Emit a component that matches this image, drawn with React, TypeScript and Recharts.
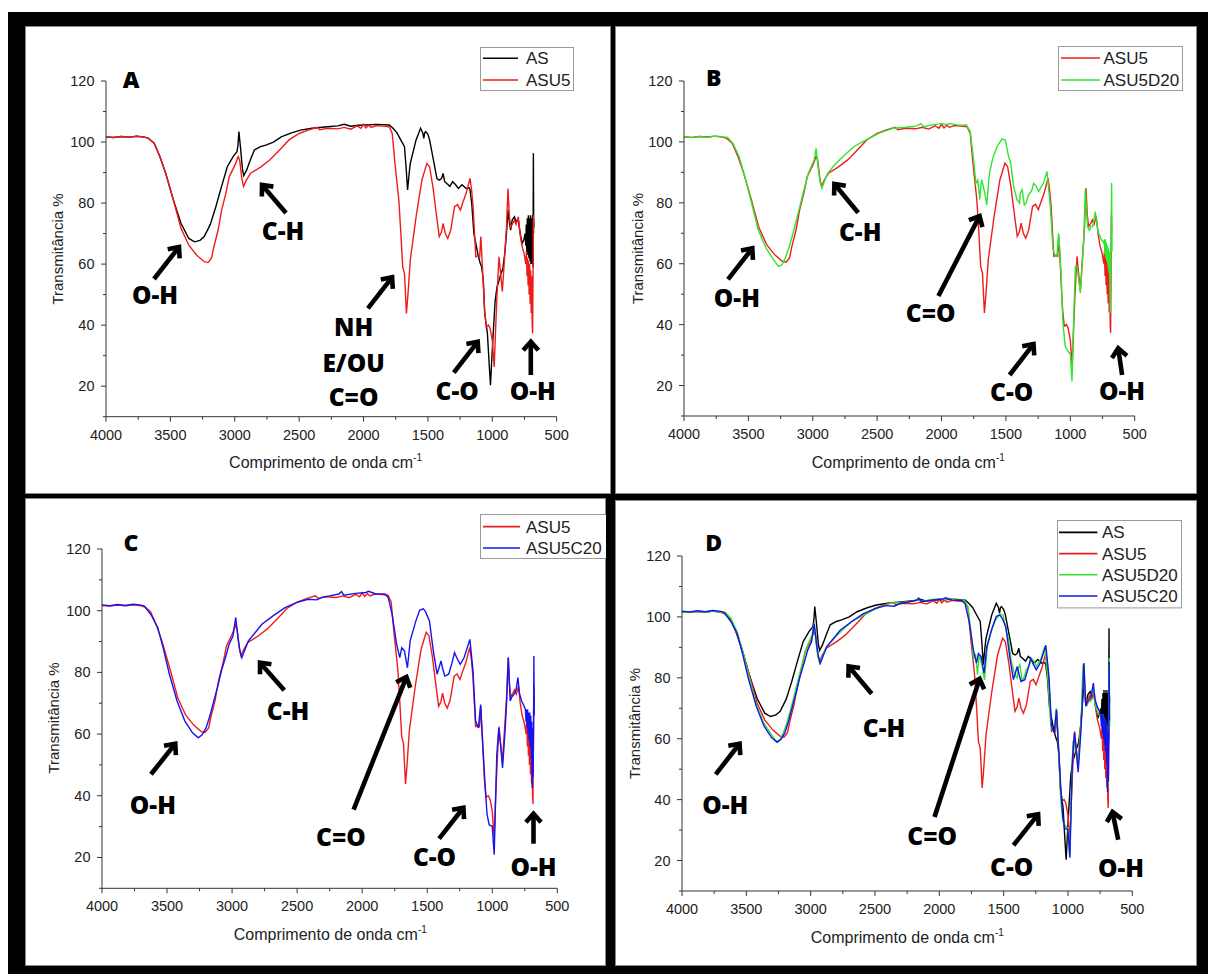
import React from "react";
import { LineChart, Line, XAxis, YAxis, Legend } from "recharts";

// FTIR spectra: wavenumber (cm-1) and transmittance (%)

const AS_WN = [4000, 3940, 3880, 3820, 3760, 3700, 3670, 3626, 3581, 3536, 3477, 3417, 3357, 3312, 3270, 3237, 3190, 3147, 3103, 3058, 3013, 2983, 2975, 2968, 2955, 2940, 2930, 2908, 2880, 2848, 2800, 2759, 2700, 2639, 2560, 2489, 2400, 2280, 2200, 2150, 2100, 2040, 1981, 1900, 1801, 1771, 1740, 1711, 1682, 1670, 1658, 1645, 1637, 1592, 1557, 1540, 1532, 1525, 1517, 1500, 1487, 1457, 1430, 1412, 1395, 1382, 1370, 1353, 1330, 1308, 1285, 1263, 1235, 1203, 1180, 1173, 1160, 1143, 1113, 1094, 1083, 1070, 1059, 1038, 1023, 1014, 1005, 993, 978, 963, 948, 933, 918, 903, 890, 878, 868, 858, 845, 828, 815, 798, 783, 768, 755, 745, 740, 736, 732, 728, 724, 720, 716, 712, 708, 704, 700, 696, 692, 688, 684, 681, 679, 676];
const AS_T = [101.7, 101.5, 101.8, 101.6, 101.9, 101.6, 101.2, 99.6, 95.2, 89.7, 81, 73.3, 68.4, 67.3, 67.8, 69, 73, 78.8, 85.4, 91.9, 95.2, 96.8, 99, 103.4, 98, 91, 89, 90.8, 94, 97.4, 98.5, 99, 100, 101.7, 103, 103.9, 104.5, 105, 105.3, 105.8, 105.2, 105.5, 105.6, 105.8, 105.6, 104.5, 103, 100.7, 98.5, 92, 84.3, 90, 93, 100.7, 104.5, 103, 101.2, 103, 103.4, 102.5, 100.7, 94.1, 88, 87.5, 88, 89.7, 87, 86.4, 85.5, 87, 86, 84.8, 86, 84.8, 85, 84.3, 80, 70, 63.5, 60.3, 59.1, 55, 43.8, 37.3, 26.3, 20.3, 28, 37.3, 48, 52.6, 54.5, 56.9, 58.5, 63.5, 70, 77.7, 74, 71.1, 74.5, 75.5, 74, 74.4, 70, 66.8, 68, 70, 66, 73, 64, 75, 63, 76, 62, 75, 61, 76, 60, 75, 60, 76, 59, 96.3, 75, 72];

const ASU5_WN = [4000, 3940, 3880, 3820, 3760, 3700, 3670, 3626, 3581, 3536, 3477, 3417, 3357, 3297, 3237, 3207, 3180, 3162, 3130, 3102, 3070, 3043, 2998, 2974, 2962, 2945, 2932, 2910, 2878, 2800, 2729, 2650, 2579, 2500, 2429, 2360, 2340, 2280, 2200, 2150, 2100, 2050, 2020, 2000, 1981, 1960, 1940, 1900, 1850, 1801, 1777, 1756, 1726, 1710, 1696, 1682, 1667, 1655, 1637, 1592, 1547, 1508, 1487, 1460, 1442, 1412, 1395, 1382, 1365, 1346, 1323, 1293, 1270, 1248, 1230, 1203, 1173, 1160, 1149, 1128, 1110, 1098, 1089, 1077, 1060, 1047, 1030, 1017, 1000, 985, 975, 963, 948, 938, 922, 905, 890, 878, 868, 858, 845, 828, 815, 798, 785, 770, 753, 740, 735, 730, 726, 722, 718, 714, 710, 706, 702, 698, 694, 690, 687, 684, 681, 678];
const ASU5_T = [101.7, 101.5, 101.8, 101.6, 101.9, 101.6, 101.2, 99.6, 95.2, 89.7, 81, 71.7, 66.2, 63, 60.8, 60.5, 62, 65.7, 71, 77.7, 83, 88.6, 92.5, 95.2, 94.1, 88, 85.4, 87.5, 89.7, 91.8, 94.1, 97.5, 100.7, 102.8, 103.9, 104.8, 104, 104.5, 104.3, 104.8, 104.2, 105.3, 104.5, 105.8, 104.6, 105.5, 104.8, 105.4, 105.2, 105, 102.8, 93, 81, 70, 59.1, 56.9, 43.8, 50, 61.3, 75.5, 87.5, 93, 91.9, 85, 78.8, 69, 70.5, 73.3, 70, 68.4, 71.1, 78.8, 79.5, 77.7, 80, 83.2, 88.1, 84, 78.8, 62.4, 62.8, 62.4, 69, 59.1, 45, 39.5, 40, 38.9, 35, 26.3, 38, 50.4, 62.4, 58, 51, 62, 72, 84.8, 76, 72.2, 73, 74.4, 73, 75.5, 70, 66, 63.5, 60, 64, 56, 62, 53, 61, 50, 60, 47, 58, 44, 56, 40, 37.3, 55, 76, 70];

const ASU5D20_WN = [4000, 3940, 3880, 3820, 3760, 3700, 3662, 3620, 3572, 3527, 3482, 3423, 3363, 3303, 3267, 3240, 3213, 3183, 3153, 3123, 3094, 3064, 3034, 2989, 2974, 2959, 2944, 2929, 2910, 2884, 2830, 2765, 2680, 2585, 2480, 2376, 2280, 2200, 2160, 2140, 2077, 2000, 1960, 1927, 1870, 1807, 1777, 1754, 1733, 1718, 1703, 1694, 1688, 1664, 1649, 1628, 1600, 1568, 1531, 1505, 1479, 1463, 1440, 1414, 1394, 1388, 1374, 1357, 1344, 1324, 1300, 1285, 1265, 1246, 1209, 1181, 1155, 1134, 1116, 1104, 1091, 1077, 1057, 1040, 1026, 1008, 1000, 987, 975, 961, 948, 935, 922, 909, 895, 884, 866, 852, 840, 826, 806, 790, 780, 760, 741, 736, 732, 728, 724, 720, 716, 712, 708, 704, 700, 696, 692, 689, 685, 679, 676];
const ASU5D20_T = [101.7, 101.4, 101.8, 101.5, 101.9, 101.6, 101.5, 99.5, 95.2, 88.5, 81, 71.1, 65.1, 61.3, 59.1, 59.6, 61.9, 65.5, 70, 75, 79.9, 85, 89.7, 94.1, 97.9, 91.9, 87, 84.8, 87, 89.7, 92.5, 95.2, 98.5, 100.7, 103, 104.5, 104.8, 105.2, 106, 105, 105.6, 106, 105.7, 106, 105.5, 105.6, 103.4, 95.2, 86.4, 87.5, 81, 86, 87.5, 83.2, 79.3, 89.7, 95, 98.5, 100.9, 100.6, 95.2, 93, 85.3, 81, 79.9, 83.2, 84.3, 79.3, 79.9, 82.6, 84, 86.4, 85.5, 83.7, 86.4, 90.3, 78.8, 64.6, 62.4, 62.4, 70, 61.3, 40.5, 33, 31.8, 30.7, 30.7, 21.4, 40, 59.1, 59.3, 55, 50.4, 59.3, 68, 84.3, 72.2, 71, 72.2, 72.2, 77.1, 72, 70, 68, 66.8, 68, 63, 68, 62, 67, 61, 66, 59, 65, 57, 64, 50, 43.8, 62, 86.5, 64];

const ASU5C20_WN = [4000, 3940, 3880, 3820, 3760, 3700, 3674, 3620, 3571, 3527, 3482, 3423, 3363, 3304, 3260, 3230, 3200, 3170, 3141, 3110, 3082, 3050, 3023, 2993, 2972, 2955, 2940, 2925, 2900, 2875, 2820, 2771, 2680, 2593, 2500, 2416, 2350, 2300, 2250, 2179, 2160, 2140, 2050, 1972, 1950, 1900, 1824, 1800, 1770, 1735, 1711, 1696, 1675, 1652, 1631, 1587, 1557, 1530, 1513, 1483, 1453, 1424, 1394, 1380, 1365, 1335, 1310, 1290, 1270, 1246, 1216, 1172, 1148, 1128, 1107, 1089, 1077, 1054, 1040, 1024, 1000, 985, 975, 965, 950, 935, 921, 900, 890, 876, 862, 850, 833, 818, 803, 790, 774, 755, 745, 740, 736, 732, 728, 724, 720, 716, 712, 708, 704, 700, 696, 693, 690, 686, 682, 680, 677];
const ASU5C20_T = [101.9, 101.6, 102, 101.7, 102.1, 101.8, 101.5, 98.5, 94.5, 87.5, 79.4, 70.7, 64.2, 60.4, 58.8, 59.8, 62, 66, 70.7, 75.5, 80.5, 85, 89.1, 91.8, 97.8, 91.3, 87, 84.8, 87.5, 90.2, 93, 95.6, 98.5, 101, 102.7, 103.7, 103.5, 104.5, 104.8, 105.4, 106.2, 105, 105.6, 105.9, 106.3, 105.5, 105.4, 104.3, 98.9, 89.1, 84.8, 88, 87, 81.5, 90.2, 96.7, 100.2, 100.6, 99.7, 96.7, 87, 79.4, 83.7, 81, 78.8, 79.4, 83, 86.4, 84.5, 82.6, 84.8, 90.7, 80.5, 64.2, 62, 69.6, 59.9, 42.5, 34, 30.6, 30.1, 20.9, 38, 53.4, 62, 56, 49, 62, 70, 84.8, 70.7, 72, 72.9, 74, 78.3, 73, 70.7, 69, 68, 64, 68, 62, 68, 60, 67, 58, 67, 56, 66, 52, 64, 42.5, 62, 46, 64, 85.3, 66];

const X_TICKS = [4000, 3750, 3500, 3250, 3000, 2750, 2500, 2250, 2000, 1750, 1500, 1250, 1000, 750, 500];
const Y_TICKS = [10, 20, 30, 40, 50, 60, 70, 80, 90, 100, 110, 120];

const SANS = "'Liberation Sans', Arial, sans-serif";
const BOLD = "'Open Sans', 'DejaVu Sans', sans-serif";
const AXIS = "#333";
const TEXT = "#222";

const SERIES: Record<string, { color: string; wn: number[]; t: number[] }> = {
  AS: { color: "#000000", wn: AS_WN, t: AS_T },
  ASU5: { color: "#f01c1c", wn: ASU5_WN, t: ASU5_T },
  ASU5D20: { color: "#2ee62e", wn: ASU5D20_WN, t: ASU5D20_T },
  ASU5C20: { color: "#1414f0", wn: ASU5C20_WN, t: ASU5C20_T },
};

const toRows = (name: string) =>
  SERIES[name].wn.map((w, i) => ({ w, t: SERIES[name].t[i] }));

// panel layout (page pixels)
const PANELS = [
  {
    letter: "A", series: ["AS", "ASU5"],
    plot: { x0: 105.9, x1: 556.6, y0: 81, y1: 416.7 },
    legend: { x: 480, y: 47, w: 94, h: 44, l0: 3, l1: 38, tx: 46, r0: 11.3, dy: 21.7 },
    letterPos: [131, 80], yLab: [57.8, 249], xLab: [325.6, 461.7],
    labels: [["O-H", 155, 295], ["C-H", 283, 231], ["NH", 353.6, 326.7], ["E/OU", 353.6, 362.7], ["C=O", 353.6, 397.3], ["C-O", 457.2, 390.7], ["O-H", 532.7, 390.7]],
    arrows: [[154, 279, 179, 247], [286, 213, 262, 185], [367.9, 308.3, 392.1, 277.3], [453.8, 372.7, 477.7, 341.7], [530.8, 375, 530.8, 341.7]],
  },
  {
    letter: "B", series: ["ASU5", "ASU5D20"],
    plot: { x0: 683.7, x1: 1134.4, y0: 81, y1: 416 },
    legend: { x: 1058.5, y: 46, w: 125, h: 45, l0: 3, l1: 42, tx: 45.5, r0: 12, dy: 22 },
    letterPos: [713.8, 78.3], yLab: [637.9, 248.5], xLab: [908.3, 461.7],
    labels: [["O-H", 736.9, 297.7], ["C-H", 860.2, 231.7], ["C=O", 930.7, 313.3], ["C-O", 1011.6, 391.7], ["O-H", 1122.1, 390.7]],
    arrows: [[728, 279.3, 752.3, 248.3], [858.2, 212.7, 834.4, 184], [938.4, 296, 979.6, 216], [1009.6, 375, 1033.5, 344], [1122.1, 375, 1118.2, 348.3]],
  },
  {
    letter: "C", series: ["ASU5", "ASU5C20"],
    plot: { x0: 102.1, x1: 557.4, y0: 548.7, y1: 888 },
    legend: { x: 480, y: 513.7, w: 130, h: 45, l0: 3, l1: 40, tx: 46, r0: 12.6, dy: 21.4 },
    letterPos: [131, 543], yLab: [53.9, 718], xLab: [330.3, 933.7],
    labels: [["O-H", 152.9, 805.3], ["C-H", 288.1, 711], ["C=O", 340.9, 837], ["C-O", 434.5, 857], ["O-H", 533.5, 867]],
    arrows: [[151, 774.3, 175.3, 743.7], [284.3, 690.3, 260, 662.7], [353.6, 809.7, 406.4, 677], [439.1, 838.7, 463.4, 807.7], [533.5, 843.7, 533.5, 813.7]],
  },
  {
    letter: "D", series: ["AS", "ASU5", "ASU5D20", "ASU5C20"],
    plot: { x0: 682.2, x1: 1132.5, y0: 556, y1: 891 },
    legend: { x: 1056.6, y: 520.3, w: 125, h: 88.4, l0: 2, l1: 40.4, tx: 45, r0: 12.4, dy: 21.2 },
    letterPos: [713.8, 543], yLab: [634.8, 723.5], xLab: [907.3, 937],
    labels: [["O-H", 725.3, 805.3], ["C-H", 884, 727.7], ["C=O", 932.2, 836.3], ["C-O", 1011.6, 867], ["O-H", 1121, 867.7]],
    arrows: [[715.7, 774.3, 739.6, 743.7], [871.7, 693.7, 848.6, 666.3], [934.5, 817, 979.6, 678.7], [1013.5, 845.3, 1038.1, 814.3], [1118.2, 839.7, 1112.5, 812]],
  },
];

const XTick = (props: any) => {
  const { x, y, payload } = props;
  const major = payload.value % 500 === 0;
  return (
    <g>
      <line x1={x} x2={x} y1={y} y2={y + (major ? 5 : 3)} stroke={AXIS} />
      {major && (
        <text x={x} y={y + 23} textAnchor="middle" fontSize={14.5} fill={TEXT} fontFamily={SANS}>
          {payload.value}
        </text>
      )}
    </g>
  );
};

const YTick = (props: any) => {
  const { x, y, payload } = props;
  const major = payload.value % 20 === 0;
  return (
    <g>
      <line x1={x - (major ? 5 : 3)} x2={x} y1={y} y2={y} stroke={AXIS} />
      {major && (
        <text x={x - 11.5} y={y + 5} textAnchor="end" fontSize={14.5} fill={TEXT} fontFamily={SANS}>
          {payload.value}
        </text>
      )}
    </g>
  );
};

const ML = 50, MT = 10, MR = 20, XH = 40;

const Panel = ({ p }: { p: any }) => {
  const { x0, x1, y0, y1 } = p.plot;
  const left = x0 - ML;
  const top = y0 - MT;
  const width = x1 - x0 + ML + MR;
  const height = y1 - y0 + MT + XH;
  const lg = p.legend;
  return (
    <div style={{ position: "absolute", left, top }}>
      <LineChart width={width} height={height} margin={{ top: MT, right: MR, bottom: 0, left: 0 }}>
        <XAxis
          type="number" dataKey="w" domain={[500, 4000]} reversed allowDataOverflow
          ticks={X_TICKS} interval={0} tickSize={0} tickMargin={0} tickLine={false}
          tick={<XTick />} axisLine={{ stroke: AXIS }} height={XH}
        />
        <YAxis
          type="number" dataKey="t" domain={[10, 120]} allowDataOverflow
          ticks={Y_TICKS} interval={0} tickSize={0} tickMargin={0} tickLine={false}
          tick={<YTick />} axisLine={{ stroke: AXIS }} width={ML}
        />
        {p.series.map((s: string) => (
          <Line
            key={s} name={s} data={toRows(s)} dataKey="t" type="linear"
            stroke={SERIES[s].color} strokeWidth={1.4} dot={false} isAnimationActive={false}
          />
        ))}
        <Legend
          layout="vertical" align="center" verticalAlign="middle"
          wrapperStyle={{ left: lg.x - left, top: lg.y - top, width: lg.w, height: lg.h }}
          content={() => (
            <svg width={lg.w} height={lg.h} style={{ display: "block" }}>
              <rect x={0.5} y={0.5} width={lg.w - 1} height={lg.h - 1} fill="#fff" stroke="#9a9a9a" />
              {p.series.map((s: string, i: number) => (
                <g key={s}>
                  <line x1={lg.l0} x2={lg.l1} y1={lg.r0 + i * lg.dy} y2={lg.r0 + i * lg.dy} stroke={SERIES[s].color} strokeWidth={1.6} />
                  <text x={lg.tx} y={lg.r0 + i * lg.dy + 6} fontSize={17} fill={TEXT} fontFamily={SANS}>{s}</text>
                </g>
              ))}
            </svg>
          )}
        />
      </LineChart>
    </div>
  );
};

const Arrow = ({ a }: { a: number[] }) => {
  const [tx, ty, hx, hy] = a;
  const len = Math.hypot(hx - tx, hy - ty);
  const ux = (hx - tx) / len, uy = (hy - ty) / len;
  const L = 11.5, c = Math.cos(0.72), s = Math.sin(0.72);
  const p1 = [hx - L * (ux * c - uy * s), hy - L * (uy * c + ux * s)];
  const p2 = [hx - L * (ux * c + uy * s), hy - L * (uy * c - ux * s)];
  return (
    <g stroke="#000" strokeWidth={4.6} fill="none">
      <line x1={tx} y1={ty} x2={hx - ux * 2} y2={hy - uy * 2} />
      <polyline points={`${p1[0]},${p1[1]} ${hx},${hy} ${p2[0]},${p2[1]}`} strokeLinejoin="miter" />
    </g>
  );
};

export default function App() {
  return (
    <div style={{ position: "absolute", left: 0, top: 0, width: 1208, height: 974, background: "#fff", overflow: "hidden" }}>
      <div style={{ position: "absolute", left: 8, top: 12, width: 1200, height: 962, background: "#000" }} />
      <div style={{ position: "absolute", left: 25, top: 26, width: 586, height: 468, background: "#fff", boxShadow: "inset 0 0 0 1px #888" }} />
      <div style={{ position: "absolute", left: 615, top: 26, width: 582, height: 468, background: "#fff", boxShadow: "inset 0 0 0 1px #888" }} />
      <div style={{ position: "absolute", left: 25, top: 498, width: 581, height: 468, background: "#fff", boxShadow: "inset 0 0 0 1px #888" }} />
      <div style={{ position: "absolute", left: 615, top: 500, width: 582, height: 466, background: "#fff", boxShadow: "inset 0 0 0 1px #888" }} />
      {PANELS.map((p) => (
        <Panel key={p.letter} p={p} />
      ))}
      <div style={{ position: "absolute", left: 606, top: 498, width: 9, height: 468, background: "#000" }} />
      <svg width={1208} height={974} style={{ position: "absolute", left: 0, top: 0, pointerEvents: "none" }}>
        {PANELS.map((p) => (
          <g key={p.letter}>
            <text x={p.letterPos[0]} y={p.letterPos[1] + 8} textAnchor="middle" fontSize={23} fontWeight={800} fontFamily={BOLD}>
              {p.letter}
            </text>
            <text
              transform={`translate(${p.yLab[0] + 5},${p.yLab[1]}) rotate(-90)`}
              textAnchor="middle" fontSize={15} fill={TEXT} fontFamily={SANS}
            >
              Transmitância %
            </text>
            <text x={p.xLab[0]} y={p.xLab[1] + 6} textAnchor="middle" fontSize={16} fill={TEXT} fontFamily={SANS}>
              Comprimento de onda cm<tspan dy={-7} fontSize={10}>-1</tspan>
            </text>
            {p.labels.map((l: any, i: number) => (
              <text key={i} x={l[1]} y={l[2] + 8.8} textAnchor="middle" fontSize={24.5} fontWeight={800} fontFamily={BOLD}>
                {l[0]}
              </text>
            ))}
            {p.arrows.map((a: number[], i: number) => (
              <Arrow key={i} a={a} />
            ))}
          </g>
        ))}
      </svg>
    </div>
  );
}
